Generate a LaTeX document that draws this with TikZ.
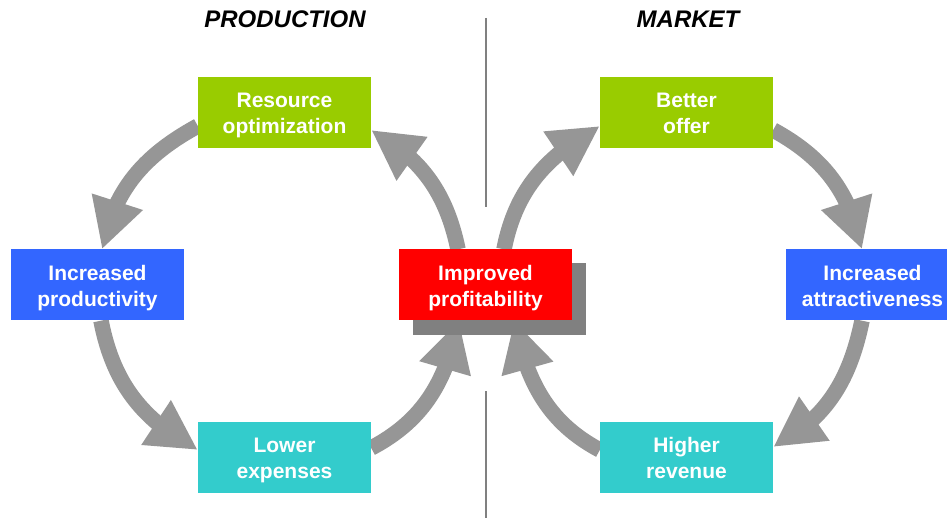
\documentclass[tikz,border=0pt]{standalone}
\usepackage{fontspec}
\setmainfont{Liberation Sans}
\usetikzlibrary{arrows.meta,bending,shadows,backgrounds}
\definecolor{boxgreen}{HTML}{99CC00}
\definecolor{boxblue}{HTML}{3366FF}
\definecolor{boxcyan}{HTML}{33CCCC}
\definecolor{boxred}{HTML}{FF0000}
\definecolor{cyclegray}{HTML}{969696}
\definecolor{shadowgray}{HTML}{808080}
\tikzset{
    box/.style={minimum width=173pt,minimum height=71pt,inner sep=0pt,align=center,text=white,
        font=\fontsize{21}{26}\selectfont\bfseries,text height=48pt,text depth=5pt},
    cyc/.style={draw=cyclegray,line width=15.5pt,-{Triangle[length=50pt,width=50pt]}},
    title/.style={font=\fontsize{24}{28}\selectfont\bfseries\itshape,anchor=base}
}
\begin{document}
\begin{tikzpicture}[x=1pt,y=1pt]
                \useasboundingbox (0,0) rectangle (947,-518);
                \node[title] (prod) at (285,-28) {PRODUCTION};
                \node[title] (mark) at (688,-28) {MARKET};
                \draw[shadowgray,line width=2pt] (485.5,-18)--(485.5,-207);
                \draw[shadowgray,line width=2pt] (485.5,-391)--(485.5,-518);
                % production side
                \node[box,fill=boxgreen] (ro) at (284.5,-112.5) {Resource\\optimization};
                \node[box,fill=boxblue] (ip) at (97.5,-285) {Increased\\productivity};
                \node[box,fill=boxcyan] (le) at (284.5,-457) {Lower\\expenses};
                % market side
                \node[box,fill=boxgreen] (bo) at (686.5,-112.5) {Better\\offer};
                \node[box,fill=boxblue] (ia) at (872.5,-285) {Increased\\attractiveness};
                \node[box,fill=boxcyan] (hr) at (686.5,-457) {Higher\\revenue};
                \node[box,fill=boxred,drop shadow={shadow xshift=14pt,shadow yshift=-14pt,fill=shadowgray,opacity=1}]
                    (pf) at (485.5,-285) {Improved\\profitability};
                \begin{scope}[on background layer]
                    \draw[cyc] ([yshift=-13.5pt]ro.west) to[out=208.7,in=78.6] ([xshift=4.5pt]ip.north);
                    \draw[cyc] ([xshift=3.5pt]ip.south) to[out=281,in=151.9] ([yshift=7pt]le.west);
                    \draw[cyc] ([yshift=9pt]le.east) to[out=27.8,in=258] ([xshift=-26.5pt]pf.south);
                    \draw[cyc] ([xshift=-27.5pt]pf.north) to[out=101.8,in=330.7] ([yshift=-17.5pt]ro.east);
                    \draw[cyc] ([xshift=18.5pt]pf.north) to[out=78.9,in=209.5] ([yshift=-13.5pt]bo.west);
                    \draw[cyc] ([yshift=-17.5pt]bo.east) to[out=331.3,in=102] ([xshift=-10.5pt]ia.north);
                    \draw[cyc] ([xshift=-10.5pt]ia.south) to[out=258.3,in=27.7] ([yshift=10pt]hr.east);
                    \draw[cyc] ([yshift=7pt]hr.west) to[out=151.9,in=282] ([xshift=28.5pt]pf.south);
                \end{scope}
            \end{tikzpicture}
\end{document}
